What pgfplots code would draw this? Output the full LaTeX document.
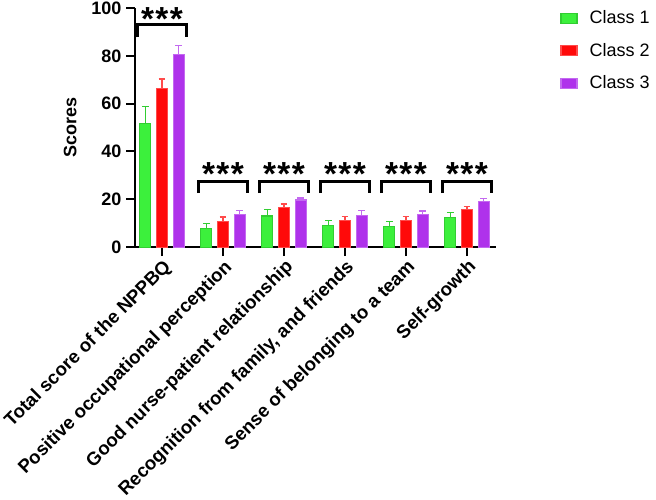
\documentclass[border=0pt]{standalone}
\usepackage{pgfplots}
\pgfplotsset{compat=1.18}
\usepackage{fontspec}
\setmainfont{Liberation Sans}
\definecolor{cg}{RGB}{60,240,60}
\definecolor{cgd}{RGB}{50,205,50}
\definecolor{cr}{RGB}{255,10,10}
\definecolor{crd}{RGB}{255,75,75}
\definecolor{cp}{RGB}{175,50,235}
\definecolor{cpd}{RGB}{195,105,240}
\newcommand{\lblfont}{\fontsize{13.5}{16}\selectfont\bfseries}
\newcommand{\xlblfont}{\fontsize{14}{16}\selectfont\bfseries}
\newcommand{\stars}{\fontsize{25}{26}\selectfont\bfseries *\hspace{1pt}*\hspace{1pt}*}
\pgfplotsset{
  lg/.style={line width=0.8pt,
    legend image code/.code={\draw[##1, line width=0.8pt] (0pt,-3.75pt) rectangle (12pt,3.75pt);}},
  myerr/.style={error bars/.cd, y dir=plus, y explicit,
    error bar style={#1, line width=1pt},
    error mark options={rotate=90, mark size=2.6pt, #1, line width=1pt}},
}
\begin{document}
\begin{tikzpicture}
\begin{axis}[
  scale only axis, width=270.75pt, height=179.25pt,
  xmin=-0.44, xmax=5.48, ymin=0, ymax=100,
  ybar=4.3pt, bar width=8.23pt,
  axis lines*=left,
  axis line style={-, line width=1.8pt},
  xtick={0,1,2,3,4,5},
  xticklabels={Total score of the NPPBQ, Positive occupational perception, Good nurse-patient relationship, {Recognition from family, and friends}, Sense of belonging to a team, Self-growth},
  ytick={0,20,40,60,80,100},
  tick align=outside, major tick length=6.75pt,
  tick style={line width=1.5pt, black},
  /pgf/number format/assume math mode=true,
  xticklabel style={rotate=45, anchor=north east, font=\xlblfont, inner sep=1pt},
  yticklabel style={font=\lblfont},
  ylabel={Scores}, ylabel style={font=\lblfont, at={(axis description cs:-0.18,0.5)}, anchor=center},
  legend style={draw=none, at={(1.177,1)}, anchor=north west,
    font=\fontsize{13.5}{16}\selectfont, row sep=9pt, column sep=7pt, inner sep=0pt},
  legend cell align=left,
  clip=false,
]
\addplot[fill=cg, draw=cgd, lg, myerr=cgd] coordinates {
 (0,51.8) +- (0,7.1)
 (1,7.6) +- (0,2.2)
 (2,13.0) +- (0,2.8)
 (3,9.2) +- (0,2.0)
 (4,8.6) +- (0,2.0)
 (5,12.3) +- (0,2.2)
};
\addlegendentry{Class 1}
\addplot[fill=cr, draw=crd, lg, myerr=crd] coordinates {
 (0,66.4) +- (0,3.9)
 (1,10.8) +- (0,1.8)
 (2,16.5) +- (0,1.5)
 (3,11.2) +- (0,1.6)
 (4,11.3) +- (0,1.4)
 (5,15.8) +- (0,1.2)
};
\addlegendentry{Class 2}
\addplot[fill=cp, draw=cpd, lg, myerr=cpd] coordinates {
 (0,80.6) +- (0,3.8)
 (1,13.8) +- (0,1.6)
 (2,19.7) +- (0,0.9)
 (3,13.4) +- (0,2.0)
 (4,13.8) +- (0,1.3)
 (5,19.2) +- (0,1.0)
};
\addlegendentry{Class 3}
\draw[line width=2.4pt] (axis cs:-0.4,87.7) -- (axis cs:-0.4,93.2) -- (axis cs:0.4,93.2) -- (axis cs:0.4,87.7);
\node[anchor=base, inner sep=0pt] at (axis cs:0,90.8) {\stars};
\draw[line width=2.4pt] (axis cs:0.6,22.6) -- (axis cs:0.6,27.6) -- (axis cs:1.4,27.6) -- (axis cs:1.4,22.6);
\draw[line width=2.4pt] (axis cs:1.6,22.6) -- (axis cs:1.6,27.6) -- (axis cs:2.4,27.6) -- (axis cs:2.4,22.6);
\draw[line width=2.4pt] (axis cs:2.6,22.6) -- (axis cs:2.6,27.6) -- (axis cs:3.4,27.6) -- (axis cs:3.4,22.6);
\draw[line width=2.4pt] (axis cs:3.6,22.6) -- (axis cs:3.6,27.6) -- (axis cs:4.4,27.6) -- (axis cs:4.4,22.6);
\draw[line width=2.4pt] (axis cs:4.6,22.6) -- (axis cs:4.6,27.6) -- (axis cs:5.4,27.6) -- (axis cs:5.4,22.6);
\node[anchor=base, inner sep=0pt] at (axis cs:1,25.9) {\stars};
\node[anchor=base, inner sep=0pt] at (axis cs:2,25.9) {\stars};
\node[anchor=base, inner sep=0pt] at (axis cs:3,25.9) {\stars};
\node[anchor=base, inner sep=0pt] at (axis cs:4,25.9) {\stars};
\node[anchor=base, inner sep=0pt] at (axis cs:5,25.9) {\stars};
\coordinate (bbl) at (axis cs:-2.656,-105.4);
\coordinate (btr) at (axis cs:8.098,103.35);
\end{axis}
\pgfresetboundingbox
\useasboundingbox (bbl) rectangle (btr);
\end{tikzpicture}
\end{document}
